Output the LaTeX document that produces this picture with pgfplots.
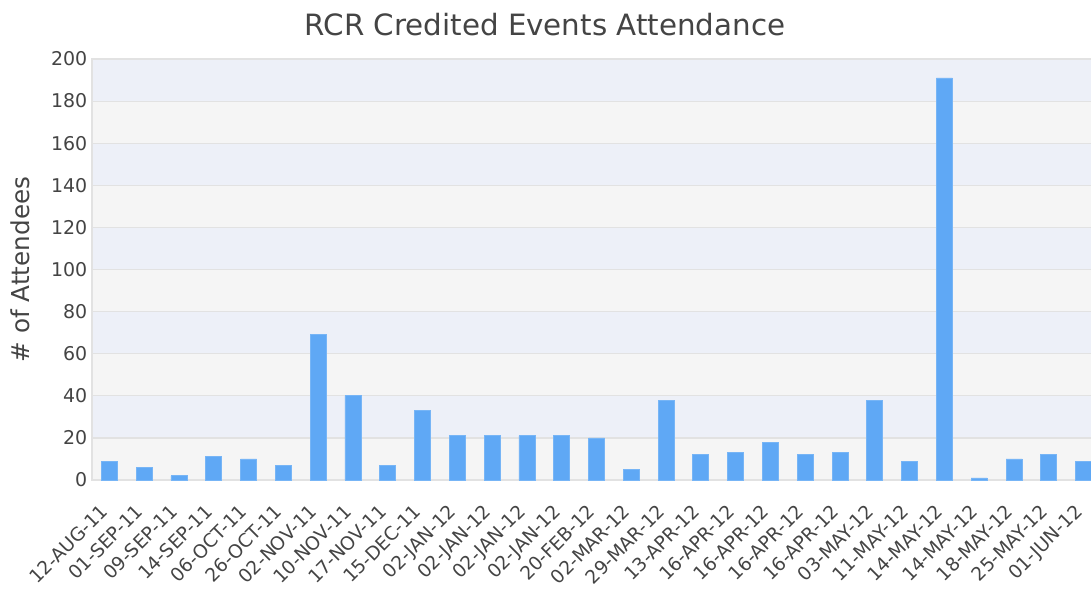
\documentclass[border=0pt]{standalone}
\usepackage{pgfplots}
\pgfplotsset{compat=1.18}
\usepackage{fontspec}
\setmainfont{DejaVu Sans}
\definecolor{barblue}{HTML}{5FA8F5}
\definecolor{bandblue}{HTML}{EDF0F8}
\definecolor{bandgray}{HTML}{F5F5F5}
\definecolor{gridgray}{HTML}{E2E2E2}
\definecolor{txt}{HTML}{444444}
\begin{document}
\begin{tikzpicture}
\begin{axis}[
  set layers,
  scale only axis,
  width=756.75pt, height=315.75pt,
  xmin=-0.5, xmax=28.5, ymin=0, ymax=200,
  ytick={0,20,...,200},
  xtick={0,...,28},
  xticklabels={12-AUG-11,01-SEP-11,09-SEP-11,14-SEP-11,06-OCT-11,26-OCT-11,02-NOV-11,10-NOV-11,17-NOV-11,15-DEC-11,02-JAN-12,02-JAN-12,02-JAN-12,02-JAN-12,20-FEB-12,02-MAR-12,29-MAR-12,13-APR-12,16-APR-12,16-APR-12,16-APR-12,16-APR-12,03-MAY-12,11-MAY-12,14-MAY-12,14-MAY-12,18-MAY-12,25-MAY-12,01-JUN-12},
  xticklabel style={xshift=-7.5pt, yshift=-12.5pt, rotate=45, anchor=north east, font=\fontsize{14}{16}\selectfont, text=txt},
  yticklabel style={font=\fontsize{14.2}{16}\selectfont, text=txt},
  /pgf/number format/assume math mode=true,
  major tick length=0pt,
  ymajorgrids,
  grid style={gridgray, line width=0.9pt},
  axis line style={draw=gridgray, line width=1pt},
  ylabel={\# of Attendees},
  ylabel style={at={(axis description cs:-0.0714,0.5)}, anchor=center, font=\fontsize{18.5}{20}\selectfont, text=txt},
  ybar, bar width=12pt,
  clip=true,
]
\begin{pgfonlayer}{axis background}
\fill[bandgray] (axis cs:-0.5,0) rectangle (axis cs:28.5,200);
\fill[bandblue] (axis cs:-0.5,20) rectangle (axis cs:28.5,40);
\fill[bandblue] (axis cs:-0.5,60) rectangle (axis cs:28.5,80);
\fill[bandblue] (axis cs:-0.5,100) rectangle (axis cs:28.5,120);
\fill[bandblue] (axis cs:-0.5,140) rectangle (axis cs:28.5,160);
\fill[bandblue] (axis cs:-0.5,180) rectangle (axis cs:28.5,200);
\end{pgfonlayer}
\addplot[fill=barblue, draw=barblue!85!white, line width=0.6pt] coordinates {
(0,9) (1,6) (2,2) (3,11) (4,10) (5,7) (6,69) (7,40) (8,7) (9,33)
(10,21) (11,21) (12,21) (13,21) (14,20) (15,5) (16,38) (17,12) (18,13) (19,18)
(20,12) (21,13) (22,38) (23,9) (24,191) (25,1) (26,10) (27,12) (28,9)
};
\end{axis}
\node[font=\fontsize{22}{24}\selectfont, text=txt] at (339.75pt,341.25pt) {RCR Credited Events Attendance};
\pgfresetboundingbox
\path[use as bounding box] (-69pt,-82.5pt) rectangle (749.25pt,360pt);
\end{tikzpicture}
\end{document}
